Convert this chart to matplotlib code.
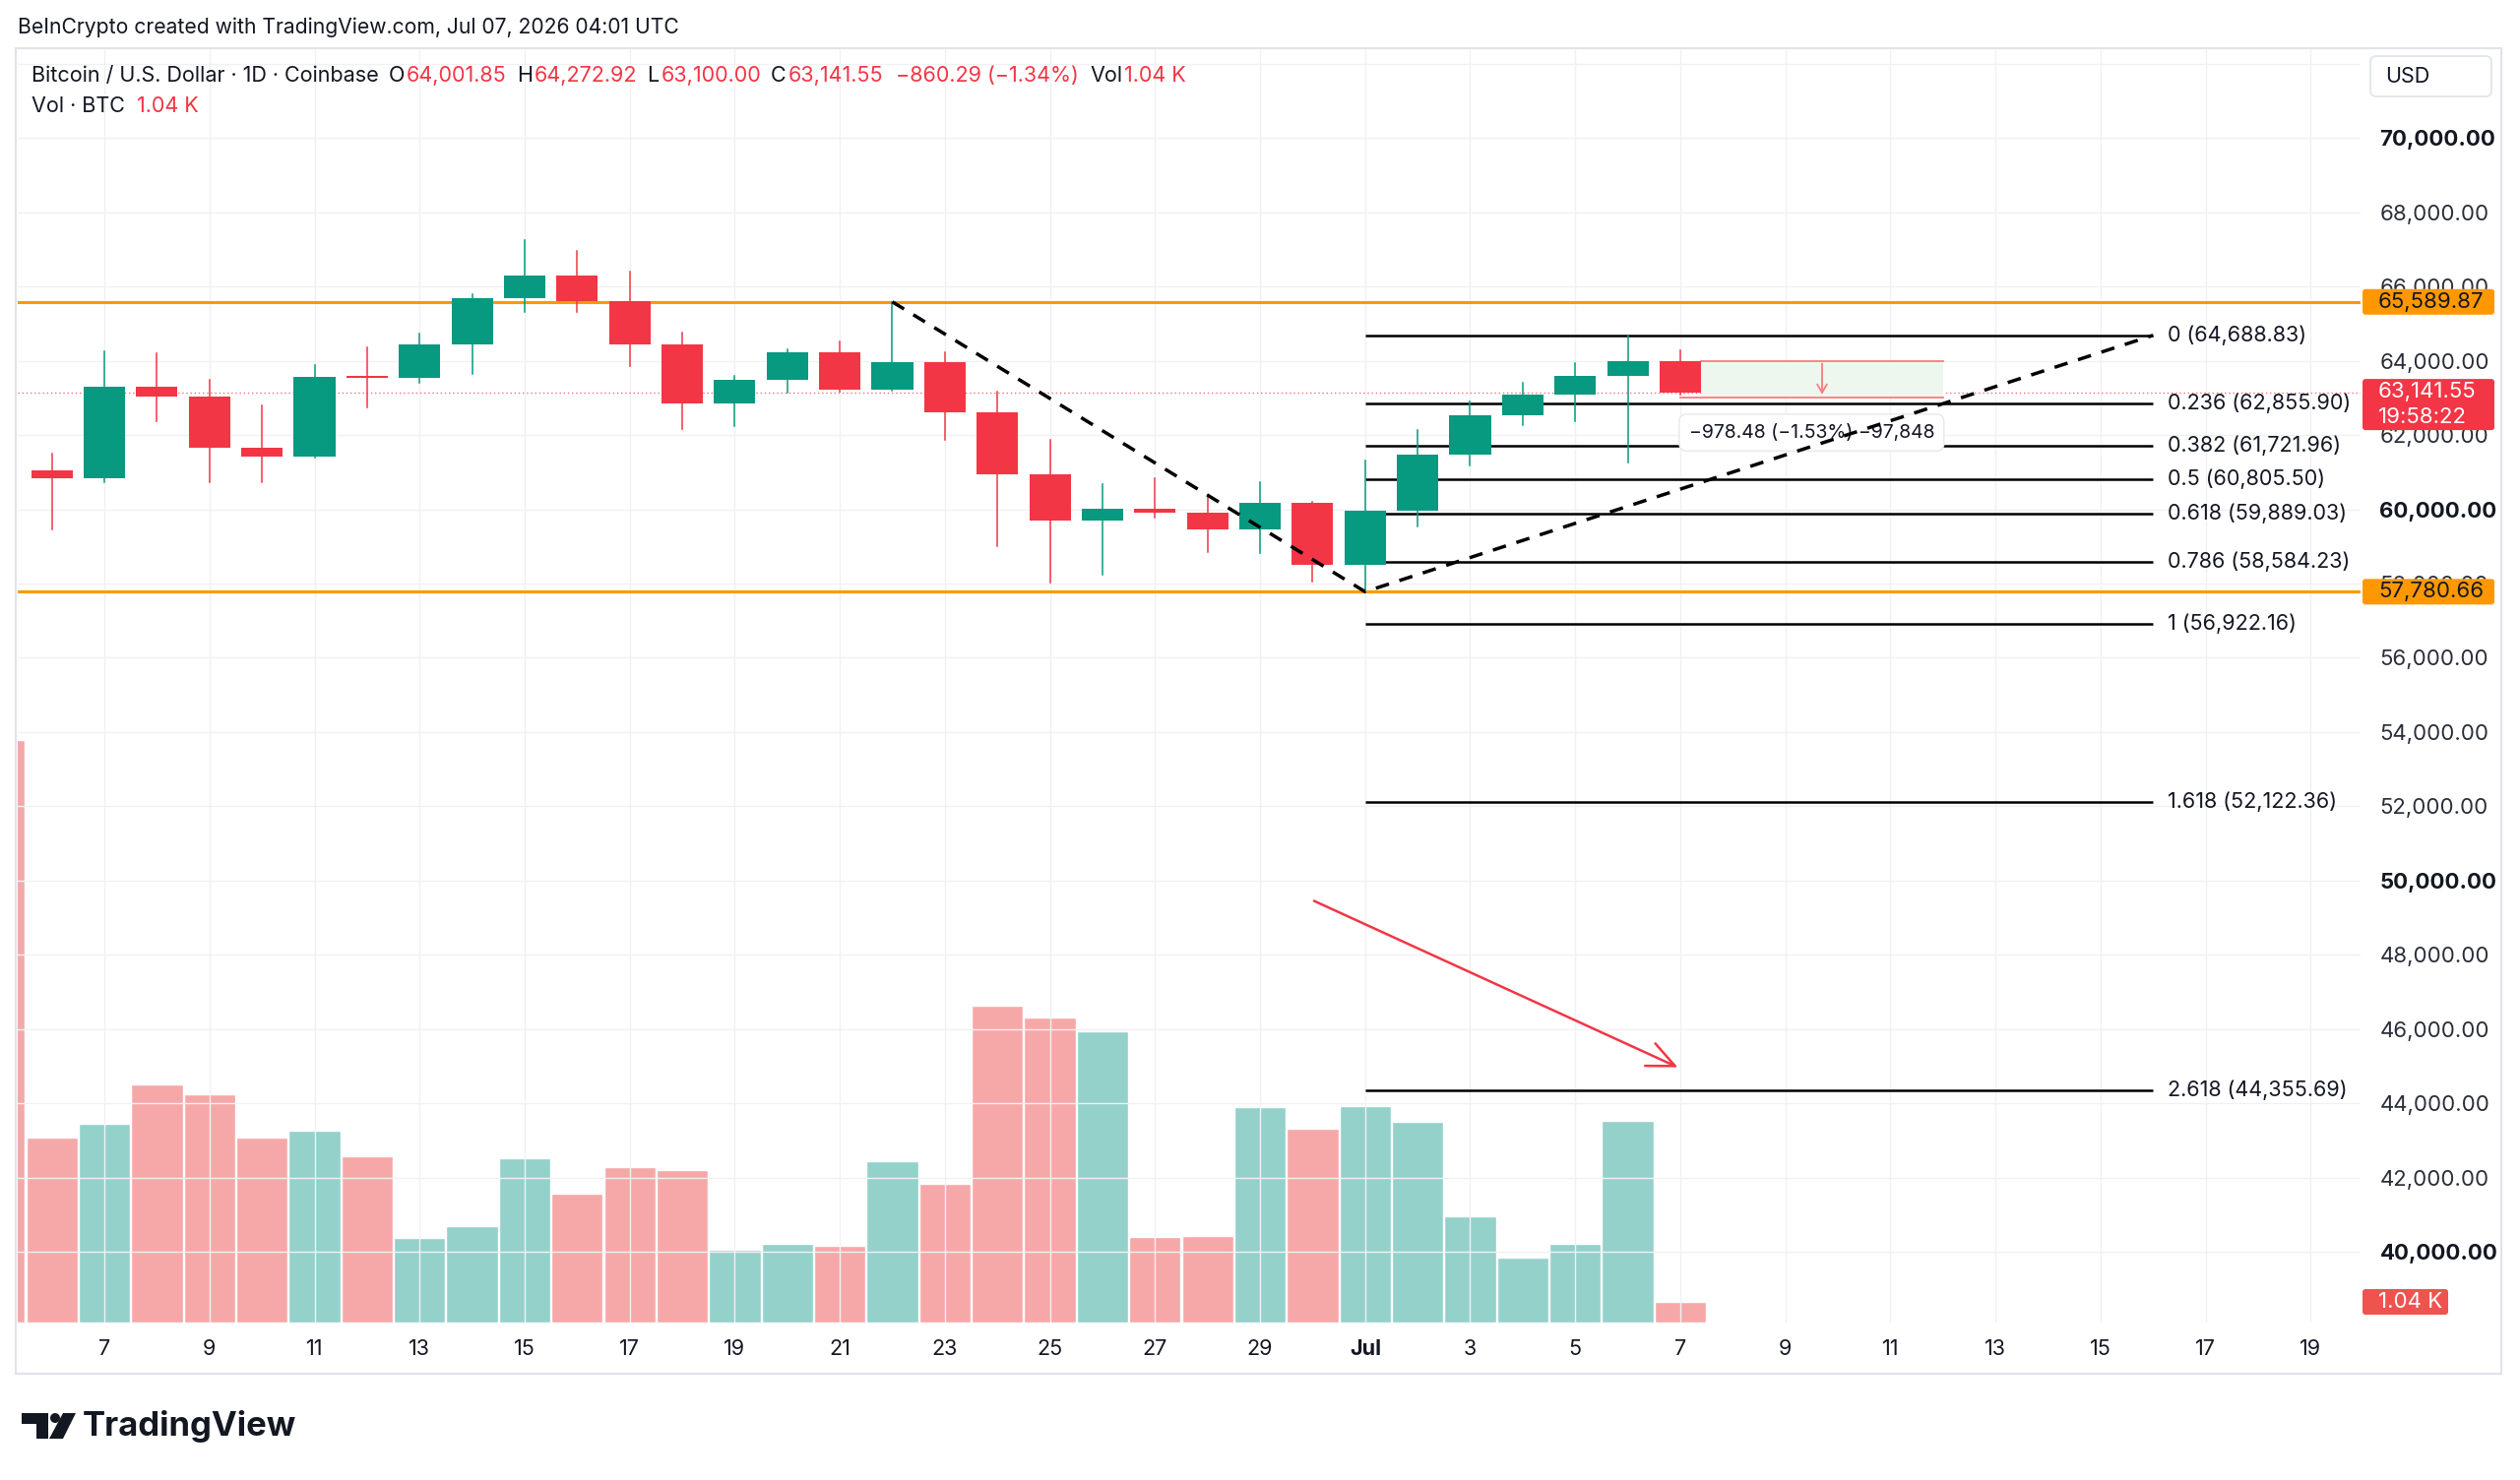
import numpy as np
import matplotlib
matplotlib.use("Agg")
import matplotlib.pyplot as plt
import matplotlib.transforms as mtransforms
from matplotlib.patches import Rectangle, FancyBboxPatch, Polygon, Circle

plt.rcParams['font.family'] = ['Inter', 'DejaVu Sans']

# ---- data ----
# candles Jun 6 .. Jul 7 ; day index 0 = Jun 5
candle_x = list(range(1, 33))
opens = [61037, 60834, 63313, 63049, 61672, 61434, 63578, 63552, 64443, 65687,
         66287, 65607, 64443, 62863, 63481, 64222, 63234, 63957, 62625, 60957,
         59695, 60004, 59916, 59457, 60163, 58513, 59951, 61487, 62546, 63093,
         63596, 64001.85]
highs = [61513, 64249, 64196, 63490, 62810, 63887, 64363, 64725, 65784, 67266,
         66949, 66393, 64752, 63587, 64302, 64513, 65589.87, 64222, 63163, 61884,
         60666, 60851, 60384, 60719, 60207, 61310, 62149, 62916, 63410, 63940,
         64688.83, 64272.92]
lows = [59457, 60728, 62387, 60719, 60719, 61400, 62749, 63410, 63649, 65308,
        65308, 63860, 62175, 62254, 63137, 63163, 63200, 61884, 59016, 58019,
        58248, 59784, 58840, 58813, 58063, 57780.66, 59545, 61178, 62281, 62387,
        61266, 63100.00]
closes = [60834, 63313, 63049, 61672, 61434, 63578, 63552, 64443, 65687, 66287,
          65607, 64443, 62863, 63481, 64222, 63234, 63957, 62625, 60957, 59695,
          60004, 59916, 59457, 60163, 58513, 59951, 61487, 62546, 63093, 63596,
          64001.85, 63141.55]

# volume (K BTC) Jun 5 .. Jul 7
vol_x = list(range(0, 33))
volumes = [29.3, 9.3, 10.0, 12.0, 11.5, 9.3, 9.65, 8.35, 4.25, 4.85, 8.25,
           6.5, 7.8, 7.65, 3.65, 3.95, 3.85, 8.1, 7.0, 15.95, 15.35, 14.65,
           4.3, 4.35, 10.85, 9.75, 10.9, 10.1, 5.35, 3.25, 3.95, 10.15, 1.04]
vol_up = [False] + [c >= o for o, c in zip(opens, closes)]

tick_x = list(range(2, 45, 2))
tick_labels = ['7', '9', '11', '13', '15', '17', '19', '21', '23', '25', '27', '29',
               'Jul', '3', '5', '7', '9', '11', '13', '15', '17', '19']

fib_levels = ['0', '0.236', '0.382', '0.5', '0.618', '0.786', '1', '1.618', '2.618']
fib_prices = [64688.83, 62855.90, 61721.96, 60805.50, 59889.03, 58584.23,
              56922.16, 52122.36, 44355.69]
fib_start, fib_end = 26, 41

resistance = 65589.87
support = 57780.66
last_price = 63141.55

# ---- figure ----
W, H = 2560, 1504
fig = plt.figure(figsize=(W / 100, H / 100), dpi=100)
pix = mtransforms.Affine2D().scale(1 / W, -1 / H).translate(0, 1) + fig.transFigure

L, R, T, B = 18, 2398, 49, 1344
rect = [L / W, 1 - B / H, (R - L) / W, (B - T) / H]
axv = fig.add_axes(rect)
ax = fig.add_axes(rect, sharex=axv)
ax.patch.set_visible(False)

GREEN = '#089981'
RED = '#F23645'
DARK = '#131722'

ax.set_xlim(0.35, 44.95)
ax.set_ylim(38092, 72423)
axv.set_ylim(0, 64.1)

# volume
axv.bar(vol_x, volumes, width=0.98,
        color=['#94D1CA' if u else '#F6A8A8' for u in vol_up],
        edgecolor='white', linewidth=1.0)
axv.axis('off')

# grid
for y in range(40000, 72001, 2000):
    ax.axhline(y, color='#F0F1F3', lw=1, zorder=0)
for x in tick_x:
    ax.axvline(x, color='#F0F1F3', lw=1, zorder=0)

# support / resistance
ax.axhline(resistance, color='#FF9800', lw=2.2, zorder=3)
ax.axhline(support, color='#FF9800', lw=2.2, zorder=3)
ax.axhline(last_price, color=RED, lw=1, ls=(0, (1, 2)), alpha=0.7, zorder=1)

# fib lines
for lvl, p in zip(fib_levels, fib_prices):
    ax.plot([fib_start, fib_end], [p, p], color='black', lw=1.8, zorder=2,
            solid_capstyle='butt')
    ax.annotate(f"{lvl} ({p:,.2f})", xy=(fib_end, p), xytext=(11, 0),
                textcoords='offset points', va='center', ha='left',
                fontsize=15.5, color=DARK)

# candles
for x, o, h, l, c in zip(candle_x, opens, highs, lows, closes):
    col = GREEN if c >= o else RED
    ax.plot([x, x], [l, h], color=col, lw=1.1, zorder=4)
    ax.bar(x, max(abs(c - o), 45), bottom=min(o, c), width=0.79, color=col,
           zorder=5, linewidth=0)

# dashed trend lines
ax.plot([17, 26, 41], [resistance, support, fib_prices[0]], color='black',
        lw=2.5, ls=(0, (4, 3.2)), zorder=7)

# measure tool
m_top, m_bot = 64001.85, 63023.37
ax.add_patch(Rectangle((32.4, m_bot), 4.6, m_top - m_bot, facecolor='#EDF7EE',
                       edgecolor='none', zorder=3))
ax.plot([32.4, 37.0], [m_top, m_top], color='#F77C80', lw=1.3, zorder=4)
ax.plot([32.0, 37.0], [m_bot, m_bot], color='#F77C80', lw=1.3, zorder=4)
ax.annotate('', xy=(34.7, m_bot), xytext=(34.7, m_top),
            arrowprops=dict(arrowstyle='->,head_length=0.6,head_width=0.35',
                            color='#F77C80', lw=1.3), zorder=4)
ax.annotate("\u2212978.48 (\u22121.53%) \u221297,848", xy=(34.5, m_bot),
            xytext=(0, -36), textcoords='offset pixels', ha='center', va='center',
            fontsize=14, color=DARK, zorder=6,
            bbox=dict(boxstyle='round,pad=0.5,rounding_size=0.4', fc='white',
                      ec='#E6E8EC', lw=1))

# red arrow on volume
ax.annotate('', xy=(32.0, 44939), xytext=(24.98, 49483),
            arrowprops=dict(arrowstyle='->,head_length=1.0,head_width=0.45',
                            color=RED, lw=1.8, mutation_scale=20), zorder=6)

# axes styling
ax.yaxis.tick_right()
ax.set_yticks(range(40000, 70001, 2000))
ax.set_yticklabels([f"{v:,.2f}" for v in range(40000, 70001, 2000)])
ax.tick_params(axis='y', length=0, pad=14, labelsize=16, labelcolor='#2A2E39')
for t, v in zip(ax.get_yticklabels(), range(40000, 70001, 2000)):
    if v % 10000 == 0:
        t.set_fontweight('bold')
        t.set_color(DARK)
ax.set_xticks(tick_x)
ax.set_xticklabels(tick_labels)
ax.tick_params(axis='x', length=0, pad=12, labelsize=15.5, labelcolor=DARK)
for t, lab in zip(ax.get_xticklabels(), tick_labels):
    if lab == 'Jul':
        t.set_fontweight('bold')
axv.tick_params(length=0)
for s in ax.spines.values():
    s.set_visible(False)

# badges on the price scale
fig.canvas.draw()


def ypix(axis, val):
    return H - axis.transData.transform((0, val))[1]


def badge(yc, x0, x1, h, fc, lines, tc):
    fig.patches.append(FancyBboxPatch((x0, yc - h / 2), x1 - x0, h,
                                      boxstyle='round,pad=0,rounding_size=3',
                                      fc=fc, ec='none', transform=pix, zorder=10))
    n = len(lines)
    for i, s in enumerate(lines):
        fig.text(x0 + 16, yc - h / 2 + h * (i + 0.5) / n, s, transform=pix,
                 fontsize=16, color=tc, va='center', ha='left', zorder=11)


badge(ypix(ax, resistance), 2400, 2534, 26, '#FF9800', ['65,589.87'], DARK)
badge(ypix(ax, support), 2400, 2534, 26, '#FF9800', ['57,780.66'], DARK)
yl = ypix(ax, last_price)
badge(yl + 12, 2400, 2534, 52, RED, ['63,141.55', '19:58:22'], 'white')
badge(ypix(axv, volumes[-1]), 2400, 2487, 26, '#EF5350', ['1.04 K'], 'white')

# USD button
fig.patches.append(FancyBboxPatch((2408, 57), 123, 41,
                                  boxstyle='round,pad=0,rounding_size=6',
                                  fc='white', ec='#E0E3EB', lw=1.2, transform=pix))
fig.text(2423, 78, 'USD', transform=pix, fontsize=15.5, color=DARK, va='center')

# frame
fig.patches.append(Rectangle((16, 49), 2525, 1347, fill=False, ec='#E0E3EB',
                             lw=1.5, transform=pix))

# header
fig.text(18, 28, 'BeInCrypto created with TradingView.com, Jul 07, 2026 04:01 UTC',
         transform=pix, fontsize=15.2, color=DARK, va='center')

r = fig.canvas.get_renderer()


def chain(y, x0, segs):
    x = x0
    for s, col, gap in segs:
        x += gap
        t = fig.text(x, y, s, transform=pix, fontsize=15.5, color=col, va='center')
        bb = t.get_window_extent(r)
        x += bb.width


chain(77, 32, [("Bitcoin / U.S. Dollar \u00b7 1D \u00b7 Coinbase", DARK, 0),
               ("O", DARK, 10), ("64,001.85", RED, 2),
               ("H", DARK, 10), ("64,272.92", RED, 2),
               ("L", DARK, 10), ("63,100.00", RED, 2),
               ("C", DARK, 10), ("63,141.55", RED, 2),
               ("\u2212860.29 (\u22121.34%)", RED, 12),
               ("Vol", DARK, 12), ("1.04 K", RED, 1)])
chain(108, 32, [("Vol \u00b7 BTC", DARK, 0), ("1.04 K", RED, 12)])

# TradingView logo
fig.patches.append(Polygon([(22, 1436), (49, 1436), (49, 1462), (37, 1462),
                            (37, 1447), (22, 1447)], closed=True, fc='#131722',
                           transform=pix))
fig.patches.append(Circle((56, 1441), 5, fc='#131722', transform=pix))
fig.patches.append(Polygon([(64, 1436), (77, 1436), (64, 1462), (50, 1462)],
                           closed=True, fc='#131722', transform=pix))
fig.text(84, 1450, 'TradingView', transform=pix, fontsize=25, fontweight='bold',
         color='#131722', va='center')

fig.savefig('out.png', dpi=100, facecolor='white')
